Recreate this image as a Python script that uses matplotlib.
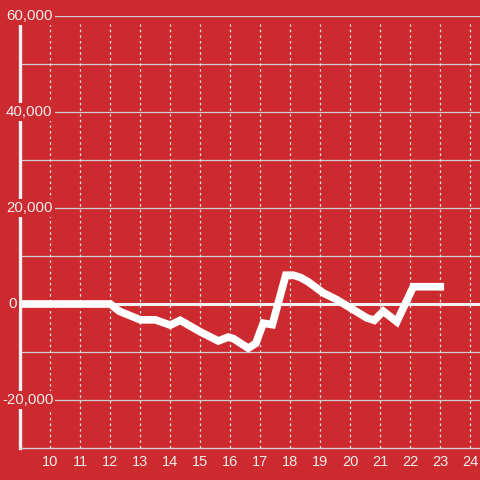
import matplotlib
matplotlib.use("Agg")
import matplotlib.pyplot as plt
import matplotlib.transforms as mtransforms

# hour of day vs value
hours = [9, 12, 12.3, 13, 13.5, 14, 14.33, 15, 15.6, 15.93, 16.1, 16.6, 16.85,
         17.1, 17.4, 17.85, 18.1, 18.35, 18.6, 19.1, 19.55, 20.0, 20.55, 20.8,
         21.1, 21.55, 22.1, 23.0]
values = [0, 0, -1500, -3300, -3300, -4400, -3400, -5800, -7700, -6900, -7200,
          -9200, -8200, -4000, -4300, 6000, 6000, 5500, 4600, 2300, 900, -800,
          -2900, -3400, -1500, -3700, 3600, 3600]

x_ticks = list(range(10, 25))
y_grid = [-20000, -10000, 10000, 20000, 30000, 40000, 50000, 60000]
y_labels = [60000, 40000, 20000, 0, -20000]

RED = '#cc2a2e'
TXT = '#eeeeee'

fig = plt.figure(figsize=(4.8, 4.8), dpi=100, facecolor=RED)
ax = fig.add_axes([20.3 / 480, 32 / 480, 1 - 20.3 / 480, 432 / 480])
ax.set_facecolor(RED)
ax.set_xlim(9, 9 + (480 - 20.3) / 30)
ax.set_ylim(-30000, 60000)

# grid
for y in y_grid:
    ax.axhline(y, color='#cfcfcf', linewidth=0.9, zorder=1)
for x in x_ticks:
    ax.axvline(x, ymax=(448 - 24) / 432, color='#e6e6e6', linewidth=0.9,
               linestyle=(0, (2, 2.5)), zorder=1)
ax.axhline(0, color='#f2f2f2', linewidth=2.2, zorder=1.5)

ax.plot(hours, values, color='white', linewidth=5.5, solid_capstyle='projecting',
        solid_joinstyle='miter', zorder=2)

for s in ['top', 'right']:
    ax.spines[s].set_visible(False)
ax.spines['left'].set_color('#f0f0f0')
ax.spines['left'].set_linewidth(2.4)
ax.spines['bottom'].set_color('#cfcfcf')
ax.spines['bottom'].set_linewidth(1)

ax.set_xticks(x_ticks)
ax.set_xticklabels([str(x) for x in x_ticks])
ax.tick_params(axis='x', length=0, pad=5, labelsize=10.5, labelcolor=TXT)
for lab in ax.get_xticklabels():
    lab.set_family('Liberation Sans')
ax.set_yticks([])

trans = mtransforms.blended_transform_factory(ax.transAxes, ax.transData)
for y in y_labels:
    px = 2 if y < 0 else (8 if y == 0 else 6)
    ax.text((px - 20.3) / 459.7, y, f"{y:,}", transform=trans, ha='left',
            va='center', fontsize=10.8, color=TXT, family='Liberation Sans',
            zorder=4, clip_on=False,
            bbox=dict(facecolor=RED, edgecolor='none', pad=1.5))

fig.savefig('out.png', dpi=100, facecolor=RED)
